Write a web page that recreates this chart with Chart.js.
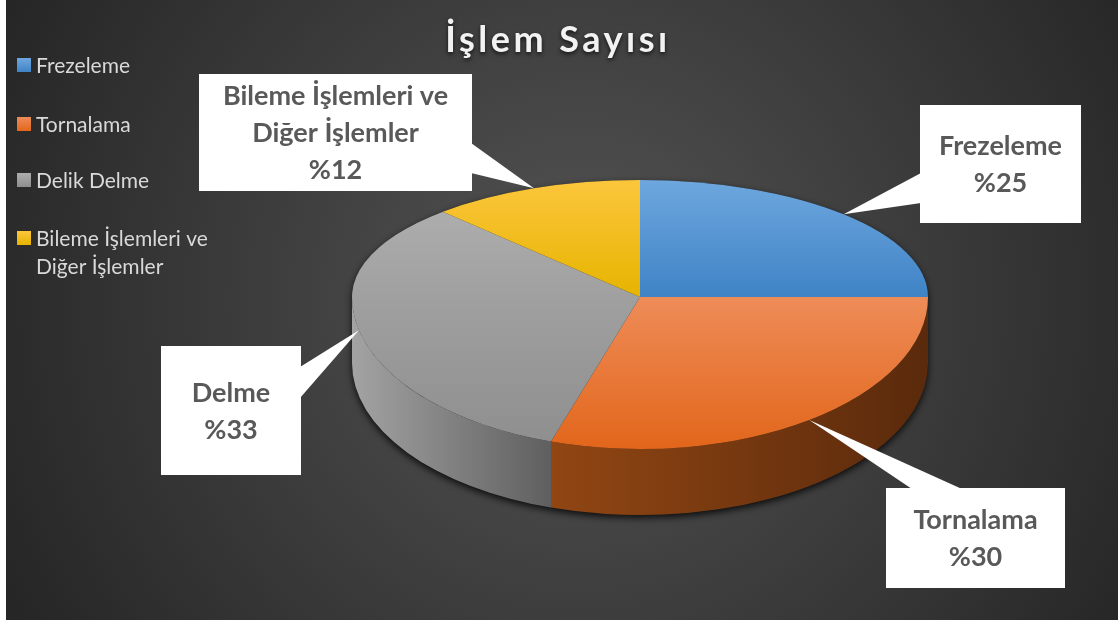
<!DOCTYPE html>
<html lang="tr">
<head>
<meta charset="utf-8">
<title>İşlem Sayısı</title>
<script src="https://cdn.jsdelivr.net/npm/chart.js@4.4.1/dist/chart.umd.min.js"></script>
<style>
  html, body { margin: 0; padding: 0; background: #fff; }
  #wrap { width: 1120px; height: 622px; position: relative; }
</style>
</head>
<body>
<div id="wrap"><canvas id="pieCanvas"></canvas></div>
<script>
// veri
const chartTitle = "İşlem Sayısı";
const categories = ["Frezeleme", "Tornalama", "Delik Delme", "Bileme İşlemleri ve Diğer İşlemler"];
const calloutNames = ["Frezeleme", "Tornalama", "Delme", "Bileme İşlemleri ve Diğer İşlemler"];
const shares = [25, 30, 33, 12];

// renkler (üst yüz: açık -> koyu, yan yüz: sol -> sağ)
const flatColors = ["#5b9bd5", "#ed7d31", "#a5a5a5", "#ffc000"];
const topColors = [["#6ea7de", "#3f83c6"], ["#ee8c58", "#e2661b"], ["#adadad", "#8f8f8f"], ["#fcc63c", "#e6b400"]];
const sideColors = [["#3a6e9e", "#24466a"], ["#914613", "#5a2a0c"], ["#a3a3a3", "#5f5f5f"], ["#b08400", "#7a5c00"]];

const FONT = "Lato, 'Open Sans', sans-serif";
const TILT_BACK = 0.406;   // arka yarı basıklığı (perspektif)
const TILT_FRONT = 0.528;  // ön yarı basıklığı
const DEPTH = 66;          // dilim kalınlığı (px)

// etiket kutuları: konum + okun bağlandığı kenar
const callouts = [
  { x: 920, y: 105, w: 161, h: 118, side: "left",  b1: 68, b2: 98 },
  { x: 886, y: 488, w: 179, h: 100, side: "top",   b1: 26, b2: 76 },
  { x: 161, y: 346, w: 140, h: 129, side: "right", b1: 21, b2: 52 },
  { x: 199, y: 74,  w: 273, h: 117, side: "right", b1: 69, b2: 99 }
];

function sliceAngles(i) {
  const total = shares.reduce((a, b) => a + b, 0);
  let start = -Math.PI / 2;
  for (let j = 0; j < i; j++) start += shares[j] / total * Math.PI * 2;
  return [start, start + shares[i] / total * Math.PI * 2];
}

// üst yüz için dilim başına dikey gradyan
function topFill(context) {
  const i = context.dataIndex;
  const area = context.chart.chartArea;
  if (!area || i === undefined) return flatColors[i] || "#999";
  const cy = (area.top + area.bottom) / 2;
  const r = Math.min(area.width, area.height) / 2;
  const [a1, a2] = sliceAngles(i);
  let minY = 0, maxY = 0;
  for (let k = 0; k <= 60; k++) {
    const s = Math.sin(a1 + (a2 - a1) * k / 60);
    minY = Math.min(minY, s); maxY = Math.max(maxY, s);
  }
  const g = context.chart.ctx.createLinearGradient(0, cy + minY * r, 0, cy + maxY * r);
  g.addColorStop(0, topColors[i][0]);
  g.addColorStop(1, topColors[i][1]);
  return g;
}

function wrapText(ctx, text, maxW) {
  const words = text.split(" ");
  const lines = [];
  let line = "";
  words.forEach(w => {
    const test = line ? line + " " + w : w;
    if (line && ctx.measureText(test).width > maxW) { lines.push(line); line = w; }
    else line = test;
  });
  if (line) lines.push(line);
  return lines;
}

function squash(ctx, cx, cy, k) {
  ctx.translate(cx, cy);
  ctx.scale(1, k);
  ctx.translate(-cx, -cy);
}

const background = {
  id: "background",
  beforeDraw(chart) {
    const ctx = chart.ctx;
    ctx.save();
    ctx.fillStyle = "#ffffff";
    ctx.fillRect(0, 0, chart.width, chart.height);
    const g = ctx.createRadialGradient(580, 300, 0, 580, 300, 640);
    g.addColorStop(0, "#545454");
    g.addColorStop(1, "#262626");
    ctx.fillStyle = g;
    ctx.fillRect(6, 0, 1112, 620);
    ctx.restore();
  }
};

const pie3d = {
  id: "pie3d",
  beforeDatasetsDraw(chart) {
    const arcs = chart.getDatasetMeta(0).data;
    const ctx = chart.ctx;
    if (!arcs.length) { ctx.save(); return; }
    const { x: cx, y: cy, outerRadius: r } = arcs[0].getProps(["x", "y", "outerRadius"], true);
    const ryB = r * TILT_BACK, ryF = r * TILT_FRONT;

    // gölge
    ctx.save();
    ctx.shadowColor = "rgba(0,0,0,0.8)";
    ctx.shadowBlur = 7;
    ctx.shadowOffsetY = 3;
    ctx.fillStyle = "#1e1e1e";
    ctx.beginPath();
    ctx.ellipse(cx, cy, r, ryB, 0, 0, Math.PI, true);
    ctx.ellipse(cx, cy + DEPTH, r, ryF, 0, Math.PI, 0, true);
    ctx.closePath();
    ctx.fill();
    ctx.restore();

    // yan yüzler
    ctx.save();
    arcs.forEach((arc, i) => {
      const { startAngle, endAngle } = arc.getProps(["startAngle", "endAngle"], true);
      [-2 * Math.PI, 0, 2 * Math.PI].forEach(off => {
        const lo = Math.max(startAngle + off, 0);
        const hi = Math.min(endAngle + off, Math.PI);
        if (hi <= lo) return;
        const xa = cx + r * Math.cos(lo), xb = cx + r * Math.cos(hi);
        const g = ctx.createLinearGradient(Math.min(xa, xb), 0, Math.max(xa, xb), 0);
        g.addColorStop(0, sideColors[i][0]);
        g.addColorStop(1, sideColors[i][1]);
        ctx.fillStyle = g;
        ctx.beginPath();
        ctx.ellipse(cx, cy, r, ryF, 0, lo, hi, false);
        ctx.ellipse(cx, cy + DEPTH, r, ryF, 0, hi, lo, true);
        ctx.closePath();
        ctx.fill();
      });
    });
    ctx.restore();

    // üst yüzün arka yarısı (kütüphane çizer)
    ctx.save();
    ctx.beginPath();
    ctx.rect(0, 0, chart.width, cy + 1);
    ctx.clip();
    squash(ctx, cx, cy, TILT_BACK);
  },
  afterDatasetsDraw(chart) {
    const ctx = chart.ctx;
    ctx.restore();
    const arcs = chart.getDatasetMeta(0).data;
    if (!arcs.length) return;
    const { x: cx, y: cy } = arcs[0].getProps(["x", "y"], true);
    // ön yarı: aynı dilim elemanları, farklı basıklık
    ctx.save();
    ctx.beginPath();
    ctx.rect(0, cy, chart.width, chart.height - cy);
    ctx.clip();
    squash(ctx, cx, cy, TILT_FRONT);
    arcs.forEach(arc => arc.draw(ctx));
    ctx.restore();
  }
};

const labelsAndLegend = {
  id: "labelsAndLegend",
  afterDraw(chart) {
    const ctx = chart.ctx;
    const arcs = chart.getDatasetMeta(0).data;
    ctx.save();

    // başlık
    ctx.font = "bold 36px " + FONT;
    ctx.letterSpacing = "3.5px";
    ctx.textAlign = "center";
    ctx.textBaseline = "alphabetic";
    ctx.shadowColor = "rgba(0,0,0,0.7)";
    ctx.shadowBlur = 4;
    ctx.shadowOffsetY = 2;
    ctx.fillStyle = "#f2f2f2";
    ctx.fillText(chartTitle, 558, 52);
    ctx.letterSpacing = "0px";
    ctx.shadowColor = "transparent";

    // lejant
    const legendY = [65, 124, 180, 238];
    ctx.font = "21px " + FONT;
    ctx.textAlign = "left";
    ctx.textBaseline = "middle";
    chart.data.labels.forEach((lab, i) => {
      const y = legendY[i];
      const g = ctx.createLinearGradient(0, y - 7, 0, y + 7);
      g.addColorStop(0, topColors[i][0]);
      g.addColorStop(1, topColors[i][1]);
      ctx.fillStyle = g;
      ctx.fillRect(17, y - 7, 14, 14);
      ctx.fillStyle = "#d9d9d9";
      wrapText(ctx, lab, 200).forEach((ln, k) => ctx.fillText(ln, 36, y + 1 + k * 28));
    });

    // veri etiketleri
    if (!arcs.length) { ctx.restore(); return; }
    const { x: cx, y: cy, outerRadius: r } = arcs[0].getProps(["x", "y", "outerRadius"], true);
    ctx.font = "bold 27px " + FONT;
    ctx.textAlign = "center";
    ctx.textBaseline = "middle";
    arcs.forEach((arc, i) => {
      const { startAngle, endAngle } = arc.getProps(["startAngle", "endAngle"], true);
      const mid = (startAngle + endAngle) / 2;
      const sn = Math.sin(mid);
      const tx = cx + r * Math.cos(mid);
      const ty = cy + r * sn * (sn > 0 ? TILT_FRONT : TILT_BACK);
      const b = callouts[i];
      let p1, p2;
      if (b.side === "left") { p1 = [b.x + 1, b.y + b.b1]; p2 = [b.x + 1, b.y + b.b2]; }
      else if (b.side === "right") { p1 = [b.x + b.w - 1, b.y + b.b1]; p2 = [b.x + b.w - 1, b.y + b.b2]; }
      else { p1 = [b.x + b.b1, b.y + 1]; p2 = [b.x + b.b2, b.y + 1]; }
      ctx.fillStyle = "#ffffff";
      ctx.beginPath();
      ctx.moveTo(tx, ty);
      ctx.lineTo(p1[0], p1[1]);
      ctx.lineTo(p2[0], p2[1]);
      ctx.closePath();
      ctx.fill();
      ctx.fillRect(b.x, b.y, b.w, b.h);

      const lines = wrapText(ctx, calloutNames[i], b.w - 20);
      lines.push("%" + chart.data.datasets[0].data[i]);
      const lh = 37;
      const y0 = b.y + b.h / 2 - (lines.length - 1) * lh / 2;
      ctx.fillStyle = "#595959";
      lines.forEach((ln, k) => ctx.fillText(ln, b.x + b.w / 2, y0 + k * lh + 1));
    });
    ctx.restore();
  }
};

const config = {
  type: "pie",
  data: {
    labels: categories,
    datasets: [{
      data: shares,
      backgroundColor: topFill,
      borderWidth: 0,
      hoverOffset: 0,
      clip: false
    }]
  },
  options: {
    responsive: true,
    maintainAspectRatio: false,
    animation: false,
    events: [],
    layout: { padding: { left: 352, right: 192, top: 9, bottom: 37 } },
    plugins: {
      legend: { display: false },
      title: { display: false },
      tooltip: { enabled: false }
    }
  },
  plugins: [background, pie3d, labelsAndLegend]
};

const canvas = document.getElementById("pieCanvas");
if (canvas) {
  new Chart(canvas.getContext("2d"), config);
} else {
  console.error("Canvas bulunamadı!");
}
</script>
</body>
</html>
